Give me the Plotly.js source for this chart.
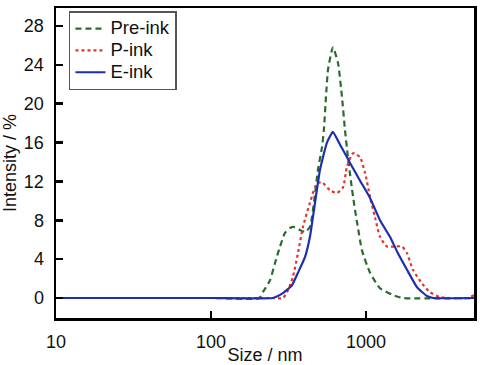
<!DOCTYPE html>
<html>
<head>
<meta charset="utf-8">
<script src="https://cdn.plot.ly/plotly-3.0.1.min.js"></script>
<style>html,body{margin:0;padding:0;background:#fff;}#chart{width:480px;height:365px;}</style>
</head>
<body>
<div id="chart"></div>
<script>
// Pre-ink (green dashed)
const preSize = [10, 100, 205, 216, 240, 259, 279, 300, 323, 348, 375, 404, 435, 490, 520, 535, 552, 569, 612, 660, 700, 732, 765, 800, 840, 888, 942, 1062, 1232, 1493, 1733, 5000];
const preVal  = [0, 0, 0, 0.6, 1.8, 3.6, 5.3, 6.7, 7.2, 7.3, 7.0, 6.8, 7.3, 13.2, 15.5, 17.3, 20.7, 23.5, 25.8, 24.2, 20.7, 17.3, 14.5, 12.0, 9.6, 7.2, 4.9, 2.6, 1.0, 0.3, 0, 0];

// P-ink (red dotted)
const pSize = [10, 100, 250, 291, 314, 338, 364, 392, 435, 483, 520, 586, 650, 711, 754, 825, 914, 986, 1062, 1144, 1232, 1366, 1538, 1707, 1840, 2011, 2298, 2589, 3001, 4500, 5000];
const pVal  = [0, 0, 0, 0, 0.8, 2.2, 4.6, 7.3, 9.8, 11.8, 11.9, 11.1, 10.8, 11.4, 13.5, 14.9, 14.5, 12.9, 10.4, 8.3, 6.3, 5.3, 5.3, 5.3, 4.6, 2.9, 1.5, 0.6, 0.1, 0, 0.3];

// E-ink (blue solid)
const eSize = [10, 100, 251, 291, 333, 364, 404, 435, 469, 505, 560, 612, 679, 754, 789, 914, 1062, 1232, 1428, 1608, 1840, 2135, 2475, 2706, 5000];
const eVal  = [0, 0, 0, 0.5, 1.3, 2.6, 4.2, 6.3, 9.8, 13.2, 16.0, 17.1, 15.8, 14.5, 13.9, 12.1, 10.3, 8.0, 6.3, 4.6, 2.9, 1.1, 0.2, 0, 0];

const seriesNames = ["Pre-ink", "P-ink", "E-ink"];
const xTicks = [10, 100, 1000];
const xTickText = ["10", "100", "1000"];
const yTicks = [0, 4, 8, 12, 16, 20, 24, 28];

const big = s => '<span style="font-size:18.5px">' + s + '</span>';

const traces = [
  {x: preSize, y: preVal, name: big(seriesNames[0]), mode: "lines", line: {color: "#2b6b2e", width: 2.2, dash: "6px,4px", shape: "spline", smoothing: 0.5}},
  {x: pSize, y: pVal, name: big(seriesNames[1]), mode: "lines", line: {color: "#e0362c", width: 2.2, dash: "dot", shape: "spline", smoothing: 0.6}},
  {x: eSize, y: eVal, name: big(seriesNames[2]), mode: "lines", line: {color: "#1d2fae", width: 2.2, shape: "spline", smoothing: 0.4}}
];

const font = {family: "Liberation Sans, Arial, sans-serif", color: "#111"};

const layout = {
  width: 480, height: 365,
  margin: {l: 56, r: 6, t: 8, b: 47},
  paper_bgcolor: "#fff", plot_bgcolor: "#fff",
  font: Object.assign({size: 17}, font),
  showlegend: true,
  legend: {
    x: 0.031, y: 0.99, xanchor: "left", yanchor: "top",
    bordercolor: "#555", borderwidth: 1.5, bgcolor: "#fff",
    font: Object.assign({size: 14.5}, font),
    tracegroupgap: 0
  },
  xaxis: {
    type: "log", range: [1, 3.697],
    tickvals: xTicks, ticktext: xTickText,
    ticks: "inside", ticklen: 7, tickwidth: 2.5, tickcolor: "#000",
    showline: true, linecolor: "#000", linewidth: 2.5, mirror: true,
    showgrid: false, zeroline: false,
    tickfont: Object.assign({size: 18}, font),
    ticklabelstandoff: 6,
    title: {text: "Size / nm", font: Object.assign({size: 18}, font), standoff: 0}
  },
  yaxis: {
    range: [-2.06, 29.85],
    tickvals: yTicks,
    ticks: "inside", ticklen: 7, tickwidth: 2.5, tickcolor: "#000",
    showline: true, linecolor: "#000", linewidth: 2.5, mirror: true,
    showgrid: false, zeroline: false,
    tickfont: Object.assign({size: 18}, font),
    ticklabelstandoff: 6,
    title: {text: "Intensity / %", font: Object.assign({size: 18}, font), standoff: 4}
  }
};

Plotly.newPlot("chart", traces, layout, {staticPlot: true, displayModeBar: false});
</script>
</body>
</html>
